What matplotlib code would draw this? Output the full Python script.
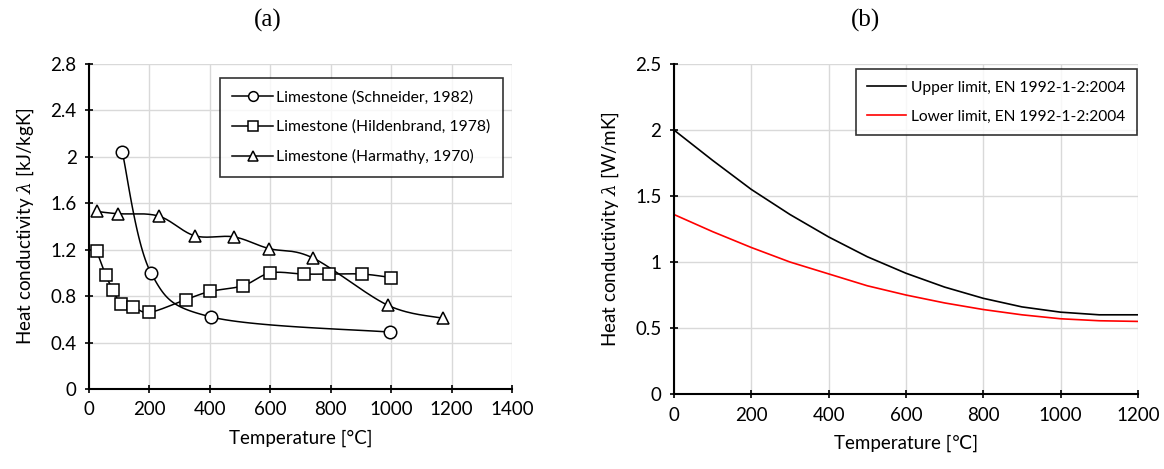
import numpy as np
import matplotlib
matplotlib.use("Agg")
import matplotlib.pyplot as plt

plt.rcParams['font.family'] = ['Lato', 'DejaVu Sans']
plt.rcParams['mathtext.fontset'] = 'dejavuserif'

# (a) limestone data
schneider_T = [110, 205, 405, 995]
schneider_k = [2.04, 1.00, 0.62, 0.49]
hilden_T = [25, 55, 80, 105, 145, 200, 320, 400, 510, 600, 710, 795, 905, 1000]
hilden_k = [1.19, 0.98, 0.85, 0.73, 0.71, 0.66, 0.77, 0.84, 0.89, 1.00, 0.99, 0.99, 0.99, 0.96]
harm_T = [25, 95, 230, 350, 480, 595, 740, 990, 1170]
harm_k = [1.53, 1.51, 1.49, 1.32, 1.31, 1.21, 1.13, 0.72, 0.61]

# (b) EN 1992-1-2 limits
en_T = [0, 100, 200, 300, 400, 500, 600, 700, 800, 900, 1000, 1100, 1200]
upper = [2.00, 1.77, 1.55, 1.36, 1.19, 1.04, 0.915, 0.81, 0.725, 0.66, 0.62, 0.60, 0.60]
lower = [1.36, 1.23, 1.11, 1.00, 0.91, 0.82, 0.75, 0.69, 0.64, 0.60, 0.57, 0.555, 0.55]


def smooth(x, y, n=30):
    # catmull-rom style curve through the points, like Excel smoothed lines
    x = np.asarray(x, float); y = np.asarray(y, float)
    px = np.concatenate([[x[0]], x, [x[-1]]])
    py = np.concatenate([[y[0]], y, [y[-1]]])
    xs, ys = [], []
    t = np.linspace(0, 1, n)
    for i in range(1, len(px) - 2):
        for p, out in ((px, xs), (py, ys)):
            p0, p1, p2, p3 = p[i - 1], p[i], p[i + 1], p[i + 2]
            m1 = (p2 - p0) / 6
            m2 = (p3 - p1) / 6
            b = ((1 - t) ** 3 * p1 + 3 * (1 - t) ** 2 * t * (p1 + m1)
                 + 3 * (1 - t) * t ** 2 * (p2 - m2) + t ** 3 * p2)
            out.extend(b)
    return xs, ys


def style(ax):
    ax.grid(True, color='#d9d9d9', lw=1)
    ax.set_axisbelow(True)
    for s in ('top', 'right'):
        ax.spines[s].set_visible(False)
    for s in ('left', 'bottom'):
        ax.spines[s].set_linewidth(1.5)
    ax.tick_params(labelsize=13.5, width=1.2, length=6, direction='inout', pad=6)


fig = plt.figure(figsize=(11.64, 4.69), dpi=100)
ax1 = fig.add_axes([0.0765, 0.1706, 0.3634, 0.693])
ax2 = fig.add_axes([0.579, 0.1599, 0.3986, 0.7036])

for T, k, m, lab in [(schneider_T, schneider_k, 'o', 'Limestone (Schneider, 1982)'),
                     (hilden_T, hilden_k, 's', 'Limestone (Hildenbrand, 1978)'),
                     (harm_T, harm_k, '^', 'Limestone (Harmathy, 1970)')]:
    sx, sy = smooth(T, k)
    ax1.plot(sx, sy, color='black', lw=1.1, zorder=2)
    ax1.plot(T, k, ls='none', marker=m, mfc='white', mec='black', ms=9, mew=1.1, zorder=3)
    ax1.plot([], [], color='black', lw=1.1, marker=m, mfc='white', mec='black', ms=7, mew=1.1, label=lab)

ax1.set_xlim(0, 1400)
ax1.set_ylim(0, 2.8)
ax1.set_xticks(range(0, 1401, 200))
ax1.set_yticks([0, 0.4, 0.8, 1.2, 1.6, 2.0, 2.4, 2.8])
ax1.set_yticklabels(['0', '0.4', '0.8', '1.2', '1.6', '2', '2.4', '2.8'])
ax1.set_xlabel('Temperature [°C]', fontsize=13.5, labelpad=8)
ax1.set_ylabel(r'Heat conductivity $\lambda$ [kJ/kgK]', fontsize=13.5, labelpad=10)
style(ax1)
leg1 = ax1.legend(loc='upper right', bbox_to_anchor=(503 / 1164, 1 - 78 / 469),
                  bbox_transform=fig.transFigure, borderaxespad=0, fontsize=11.3, fancybox=False,
                  edgecolor='black', handlelength=2.6, labelspacing=0.95, borderpad=0.8,
                  handletextpad=0.2)
leg1.get_frame().set_linewidth(1.2)

ax2.plot(en_T, upper, color='black', lw=1.2, label='Upper limit, EN 1992-1-2:2004')
ax2.plot(en_T, lower, color='#ff0000', lw=1.2, label='Lower limit, EN 1992-1-2:2004')
ax2.set_xlim(0, 1200)
ax2.set_ylim(0, 2.5)
ax2.set_xticks(range(0, 1201, 200))
ax2.set_yticks([0, 0.5, 1, 1.5, 2, 2.5])
ax2.set_yticklabels(['0', '0.5', '1', '1.5', '2', '2.5'])
ax2.set_xlabel('Temperature [℃]', fontsize=13.5, labelpad=8)
ax2.set_ylabel(r'Heat conductivity $\lambda$ [W/mK]', fontsize=13.5, labelpad=10)
style(ax2)
leg2 = ax2.legend(loc='upper right', bbox_to_anchor=(1137 / 1164, 1 - 69 / 469),
                  bbox_transform=fig.transFigure, borderaxespad=0, fontsize=11.2, fancybox=False,
                  edgecolor='black', handlelength=2.5, labelspacing=0.95, borderpad=0.75,
                  handletextpad=0.3)
leg2.get_frame().set_linewidth(1.2)

fig.text(268 / 1164, 1 - 20 / 469, '(a)', ha='center', va='center', fontsize=18, family='Liberation Serif')
fig.text(866 / 1164, 1 - 20 / 469, '(b)', ha='center', va='center', fontsize=18, family='Liberation Serif')

fig.savefig('out.png', dpi=100)
